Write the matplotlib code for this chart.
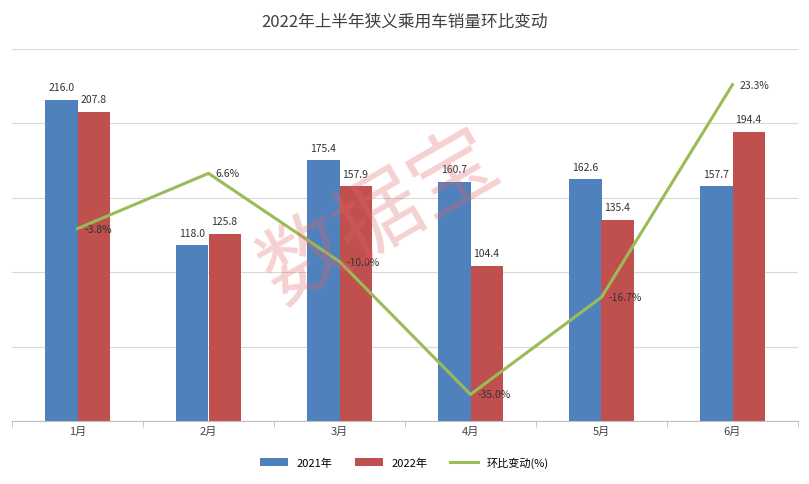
import numpy as np
import matplotlib.pyplot as plt

plt.rcParams['font.family'] = ['Noto Sans CJK SC', 'Noto Sans CJK JP', 'Noto Sans CJK TC', 'DejaVu Sans']

months = ['1月', '2月', '3月', '4月', '5月', '6月']
sales_2021 = [216.0, 118.0, 175.4, 160.7, 162.6, 157.7]
sales_2022 = [207.8, 125.8, 157.9, 104.4, 135.4, 194.4]
mom_change = [-3.8, 6.6, -10.0, -35.0, -16.7, 23.3]

fig = plt.figure(figsize=(8.09, 4.85), dpi=100)
ax = fig.add_axes([12 / 809, 63 / 485, 786 / 809, 372 / 485])
x = np.arange(len(months))
w = 0.245
b1 = ax.bar(x - w / 2, sales_2021, w, color='#4f81bd', label='2021年', zorder=2)
b2 = ax.bar(x + w / 2, sales_2022, w, color='#c0504d', label='2022年', zorder=2)
for bars in (b1, b2):
    for r in bars:
        ax.text(r.get_x() + r.get_width() / 2, r.get_height() + 5, f'{r.get_height():.1f}',
                ha='center', va='bottom', fontsize=7.5, color='#333333')
ax.set_ylim(0, 250)
ax.set_yticks(np.arange(0, 251, 50))
ax.yaxis.grid(True, color='#d9d9d9', lw=0.8)
ax.set_yticklabels([])
ax.tick_params(axis='y', length=0)
ax.set_xlim(-0.5, 5.5)
ax.set_xticks(x)
ax.set_xticklabels(months, fontsize=8, color='#444444')
ax.set_xticks(np.arange(-0.5, 6, 1), minor=True)
ax.tick_params(axis='x', which='major', length=0)
ax.tick_params(axis='x', which='minor', length=4, color='#bfbfbf')
for s in ['top', 'right', 'left']:
    ax.spines[s].set_visible(False)
ax.spines['bottom'].set_color('#bfbfbf')

ax2 = ax.twinx()
ln, = ax2.plot(x, mom_change, color='#9bbb59', lw=2.2, label='环比变动(%)', zorder=3)
for xi, v in zip(x, mom_change):
    ax2.text(xi + 0.05, v, f'{v:.1f}%', ha='left', va='center', fontsize=7.5, color='#333333')
ax2.set_ylim(-40, 30)
ax2.axis('off')

fig.suptitle('2022年上半年狭义乘用车销量环比变动', y=1 - 22 / 485, va='center',
             fontsize=12, color='#404040')
fig.text(0.47, 0.55, '数据宝', fontsize=62, color='#e06666', alpha=0.3,
         rotation=30, ha='center', va='center')
fig.legend(handles=[b1, b2, ln], loc='center', bbox_to_anchor=(0.5, 1 - 463 / 485),
           ncol=3, frameon=False, fontsize=8, handlelength=2.5)
fig.savefig('out.png', dpi=100)
